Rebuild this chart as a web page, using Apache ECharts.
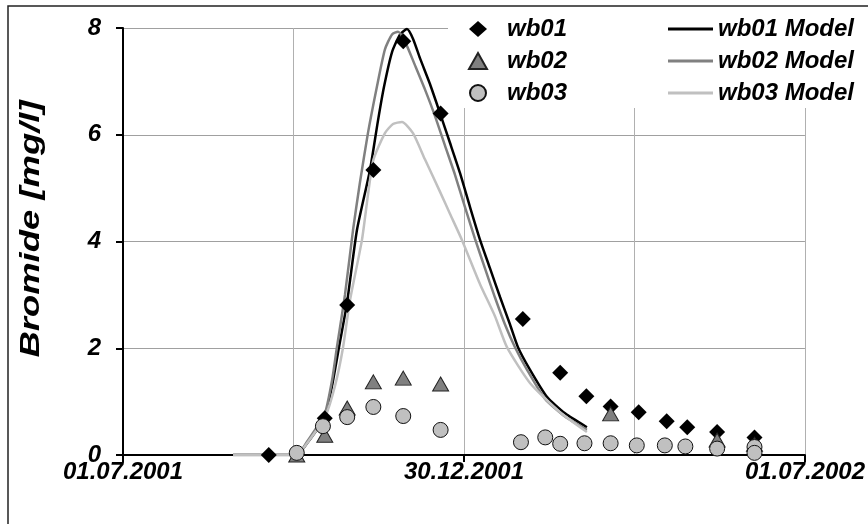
<!DOCTYPE html>
<html>
<head>
<meta charset="utf-8">
<script src="https://cdn.jsdelivr.net/npm/echarts@6/dist/echarts.min.js"></script>
<style>
  html, body { margin: 0; padding: 0; background: #fff; }
  #chart { width: 868px; height: 524px; }
</style>
</head>
<body>
<div id="chart"></div>
<script>
// days counted from 01.07.2001
var wb01Days = [78, 108, 120, 134, 150, 170, 214, 234, 248, 261, 276, 291, 302, 318, 338];
var wb01Values = [0, 0.69, 2.81, 5.34, 7.75, 6.40, 2.55, 1.54, 1.10, 0.91, 0.80, 0.63, 0.52, 0.43, 0.33];

var wb02Days = [93, 108, 120, 134, 150, 170, 261, 318, 338];
var wb02Values = [0, 0.37, 0.88, 1.37, 1.44, 1.33, 0.77, 0.28, 0.2];

var wb03Days = [93, 107, 120, 134, 150, 170, 213, 226, 234, 247, 261, 275, 290, 301, 318, 338, 338];
var wb03Values = [0.04, 0.54, 0.71, 0.90, 0.73, 0.47, 0.24, 0.33, 0.21, 0.22, 0.22, 0.18, 0.18, 0.16, 0.12, 0.15, 0.04];

var model01Days = [58.9, 91.0, 94.7, 98.5, 103.3, 108.1, 111.9, 115.6, 119.9, 125.2, 132.2, 136.5, 139.7, 144.0, 148.3, 152.0,
  155.2, 159.0, 164.3, 169.7, 175.0, 180.4, 185.7, 191.1, 196.4, 201.8, 207.1, 211.4, 217.8, 226.9, 236.6, 248.3];
var model01Values = [0, 0, 0.05, 0.22, 0.45, 0.71, 1.3, 2.02, 2.85, 4.21, 5.34, 6.27, 6.9, 7.55, 7.88, 7.98,
  7.8, 7.43, 6.95, 6.4, 5.85, 5.28, 4.65, 4.03, 3.5, 2.96, 2.45, 2.02, 1.6, 1.09, 0.78, 0.52];

var model02Days = [58.9, 91.0, 94.7, 98.5, 103.3, 108.1, 111.9, 114.5, 118.8, 123.1, 126.8, 131.1, 135.9, 140.2, 144.0, 147.2,
  150.9, 156.3, 161.6, 167.0, 172.3, 177.7, 183.0, 188.4, 193.7, 199.1, 204.4, 209.8, 216.2, 225.9, 236.6, 248.3];
var model02Values = [0, 0, 0.05, 0.25, 0.5, 0.78, 1.4, 2.02, 3.0, 4.21, 5.1, 6.03, 6.9, 7.6, 7.88, 7.93,
  7.75, 7.3, 6.85, 6.35, 5.8, 5.25, 4.65, 4.05, 3.5, 2.95, 2.45, 2.02, 1.6, 1.05, 0.72, 0.47];

var model03Days = [58.9, 91.0, 94.7, 98.5, 103.3, 108.1, 113.5, 117.7, 121.5, 127.9, 133.8, 140.2, 144.5, 149.3, 155.2, 161.6,
  169.7, 175.0, 181.4, 191.1, 199.1, 205.5, 217.8, 233.9, 248.3];
var model03Values = [0, 0, 0.05, 0.22, 0.45, 0.7, 1.3, 2.0, 2.9, 4.03, 5.5, 6.03, 6.2, 6.24, 6.03, 5.54,
  4.93, 4.52, 4.03, 3.2, 2.6, 2.02, 1.35, 0.8, 0.43];

var xTickDays = [0, 182.5, 365];
var yTicks = [0, 2, 4, 6, 8];

var startDate = Date.UTC(2001, 6, 1);
function dayLabel(d) {
  var t = new Date(startDate + d * 86400000);
  var dd = ('0' + t.getUTCDate()).slice(-2);
  var mm = ('0' + (t.getUTCMonth() + 1)).slice(-2);
  return dd + '.' + mm + '.' + t.getUTCFullYear();
}
function pairs(xs, ys) {
  return xs.map(function (x, i) { return [x, ys[i]]; });
}

var font = 'Liberation Sans, Arial, sans-serif';
var labelText = { fontFamily: font, fontWeight: 'bold', fontStyle: 'italic', fontSize: 24, color: '#000' };

var chart = echarts.init(document.getElementById('chart'));
chart.setOption({
  backgroundColor: '#fff',
  animation: false,
  grid: { left: 123, right: 63, top: 28, bottom: 69 },
  graphic: [
    // white box behind the legend
    { type: 'rect', z: 1, shape: { x: 448, y: 9, width: 420, height: 99 }, style: { fill: '#fff' } },
    // outer frame
    { type: 'rect', z: 10, shape: { x: 8, y: 6, width: 880, height: 540 }, style: { fill: 'none', stroke: '#222', lineWidth: 1.5 } },
    // y axis title, stretched along its length like the original
    { type: 'text', z: 10, x: 32, y: 229, rotation: Math.PI / 2, scaleX: 1.35,
      style: { text: 'Bromide [mg/l]', fill: '#000', align: 'center', verticalAlign: 'middle',
        font: 'italic bold 27px Liberation Sans, Arial, sans-serif' } }
  ],
  legend: [
    {
      data: ['wb01', 'wb02', 'wb03'],
      orient: 'vertical', left: 468, top: 17, padding: 0,
      itemWidth: 18, itemHeight: 16, itemGap: 8,
      textStyle: Object.assign({ padding: [0, 0, 0, 15], lineHeight: 22 }, labelText)
    },
    {
      data: [
        { name: 'wb01 Model', icon: 'rect' },
        { name: 'wb02 Model', icon: 'rect' },
        { name: 'wb03 Model', icon: 'rect' }
      ],
      orient: 'vertical', left: 668, top: 17, padding: 0,
      itemWidth: 45, itemHeight: 3, itemGap: 8,
      textStyle: Object.assign({ lineHeight: 22 }, labelText)
    }
  ],
  xAxis: {
    type: 'value', min: 0, max: 365, interval: 182.5,
    axisLine: { lineStyle: { color: '#000', width: 2 } },
    axisTick: { length: 7, lineStyle: { color: '#000', width: 2 } },
    axisLabel: Object.assign({ margin: 5, formatter: function (v) {
      return xTickDays.indexOf(v) >= 0 ? dayLabel(v) : '';
    } }, labelText),
    splitLine: { show: true, lineStyle: { color: '#b0b0b0', width: 1 } },
    minorTick: { show: false, splitNumber: 2 },
    minorSplitLine: { show: true, lineStyle: { color: '#b0b0b0', width: 1 } }
  },
  yAxis: {
    type: 'value', min: yTicks[0], max: yTicks[yTicks.length - 1], interval: 2,
    axisLine: { show: true, lineStyle: { color: '#000', width: 2 } },
    axisTick: { show: true, length: 7, lineStyle: { color: '#000', width: 2 } },
    axisLabel: Object.assign({ margin: 22 }, labelText),
    splitLine: { show: true, lineStyle: { color: '#a0a0a0', width: 1 } }
  },
  series: [
    { name: 'wb01 Model', type: 'line', z: 2, symbol: 'none', smooth: 0.2, data: pairs(model01Days, model01Values),
      lineStyle: { color: '#000', width: 2.5 }, itemStyle: { color: '#000' } },
    { name: 'wb02 Model', type: 'line', z: 2, symbol: 'none', smooth: 0.2, data: pairs(model02Days, model02Values),
      lineStyle: { color: '#808080', width: 2.5 }, itemStyle: { color: '#808080' } },
    { name: 'wb03 Model', type: 'line', z: 2, symbol: 'none', smooth: 0.2, data: pairs(model03Days, model03Values),
      lineStyle: { color: '#c0c0c0', width: 2.5 }, itemStyle: { color: '#c0c0c0' } },
    { name: 'wb01', type: 'scatter', z: 3, symbol: 'diamond', symbolSize: 16, data: pairs(wb01Days, wb01Values),
      itemStyle: { color: '#000', opacity: 1 } },
    { name: 'wb02', type: 'scatter', z: 3, symbol: 'triangle', symbolSize: [16, 14], data: pairs(wb02Days, wb02Values),
      itemStyle: { color: '#808080', borderColor: '#222', borderWidth: 1, opacity: 1 } },
    { name: 'wb03', type: 'scatter', z: 3, symbol: 'circle', symbolSize: 15, data: pairs(wb03Days, wb03Values),
      itemStyle: { color: '#c0c0c0', borderColor: '#111', borderWidth: 1, opacity: 1 } }
  ]
});
</script>
</body>
</html>
